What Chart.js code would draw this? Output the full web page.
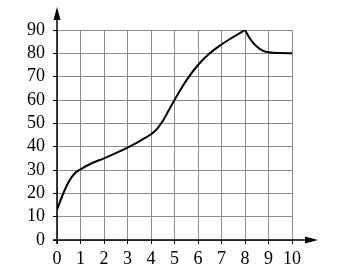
<!DOCTYPE html>
<html>
<head>
<meta charset="utf-8">
<script src="https://cdn.jsdelivr.net/npm/chart.js@4"></script>
<style>
  body { margin: 0; background: #fff; }
  #wrap { width: 343px; height: 268px; }
</style>
</head>
<body>
<div id="wrap"><canvas id="myChart"></canvas></div>
<script>
// values
let xValues = [0, 0.25, 0.5, 0.75, 1, 1.5, 2, 2.5, 3, 3.5, 4, 4.25, 4.5, 4.75, 5, 5.5, 6, 6.5, 7, 7.5, 8, 8.25, 8.5, 8.75, 9, 9.5, 10];
let yValues = [13, 19.5, 25, 28.5, 30.3, 33, 35, 37.2, 39.6, 42.3, 45.3, 47.5, 51, 55.5, 60, 68.3, 75, 80, 83.8, 87, 90, 85.8, 82.9, 81.2, 80.5, 80.1, 80];
let xTicks = [0, 1, 2, 3, 4, 5, 6, 7, 8, 9, 10];
let yTicks = [0, 10, 20, 30, 40, 50, 60, 70, 80, 90];

let peak = yValues.indexOf(Math.max(...yValues));
let points = xValues.map((x, i) => ({ x: x, y: yValues[i] }));

let font = { family: "'Liberation Serif', serif", size: 18 };
let gridColor = "#8c8c8c";

// axis lines with arrow heads, placed from the scales
let arrowAxes = {
  id: "arrowAxes",
  afterDraw: (chart) => {
    let c = chart.ctx;
    let xs = chart.scales.x;
    let ys = chart.scales.y;
    let x0 = xs.getPixelForValue(0);
    let y0 = ys.getPixelForValue(0);
    let top = ys.getPixelForValue(90) - 23;
    let right = xs.getPixelForValue(10) + 26;
    c.save();
    c.strokeStyle = "#000";
    c.fillStyle = "#000";
    c.lineWidth = 1.5;
    c.beginPath();
    c.moveTo(x0, y0 + 4);
    c.lineTo(x0, top + 6);
    c.moveTo(x0 - 4, y0);
    c.lineTo(right - 6, y0);
    c.stroke();
    c.beginPath();
    c.moveTo(x0, top);
    c.lineTo(x0 - 3.5, top + 13);
    c.lineTo(x0 + 3.5, top + 13);
    c.closePath();
    c.fill();
    c.beginPath();
    c.moveTo(right, y0);
    c.lineTo(right - 13, y0 - 3.5);
    c.lineTo(right - 13, y0 + 3.5);
    c.closePath();
    c.fill();
    c.restore();
  },
};

let myChart = new Chart(document.getElementById("myChart"), {
  type: "line",
  data: {
    datasets: [
      {
        data: points.slice(0, peak + 1),
        borderColor: "#000",
        borderWidth: 2,
        pointRadius: 0,
        tension: 0.4,
      },
      {
        data: points.slice(peak),
        borderColor: "#000",
        borderWidth: 2,
        pointRadius: 0,
        tension: 0.4,
      },
    ],
  },
  options: {
    responsive: true,
    maintainAspectRatio: false,
    animation: false,
    layout: { padding: { left: 0, right: 51, top: 30, bottom: 0 } },
    plugins: { legend: { display: false }, tooltip: { enabled: false } },
    scales: {
      x: {
        type: "linear",
        min: 0,
        max: 10,
        afterBuildTicks: (scale) => {
          scale.ticks = xTicks.map((v) => ({ value: v }));
        },
        afterFit: (scale) => {
          scale.height = 28;
        },
        border: { display: false },
        grid: { color: gridColor, lineWidth: 1, tickColor: "#000", tickLength: 4 },
        ticks: { color: "#000", font: font, padding: 4, maxRotation: 0, autoSkip: false },
      },
      y: {
        type: "linear",
        min: 0,
        max: 90,
        afterBuildTicks: (scale) => {
          scale.ticks = yTicks.map((v) => ({ value: v }));
        },
        afterFit: (scale) => {
          scale.width = 57;
        },
        border: { display: false },
        grid: { color: gridColor, lineWidth: 1, tickColor: "#000", tickLength: 4 },
        ticks: { color: "#000", font: font, padding: 8, autoSkip: false },
      },
    },
  },
  plugins: [arrowAxes],
});
</script>
</body>
</html>
